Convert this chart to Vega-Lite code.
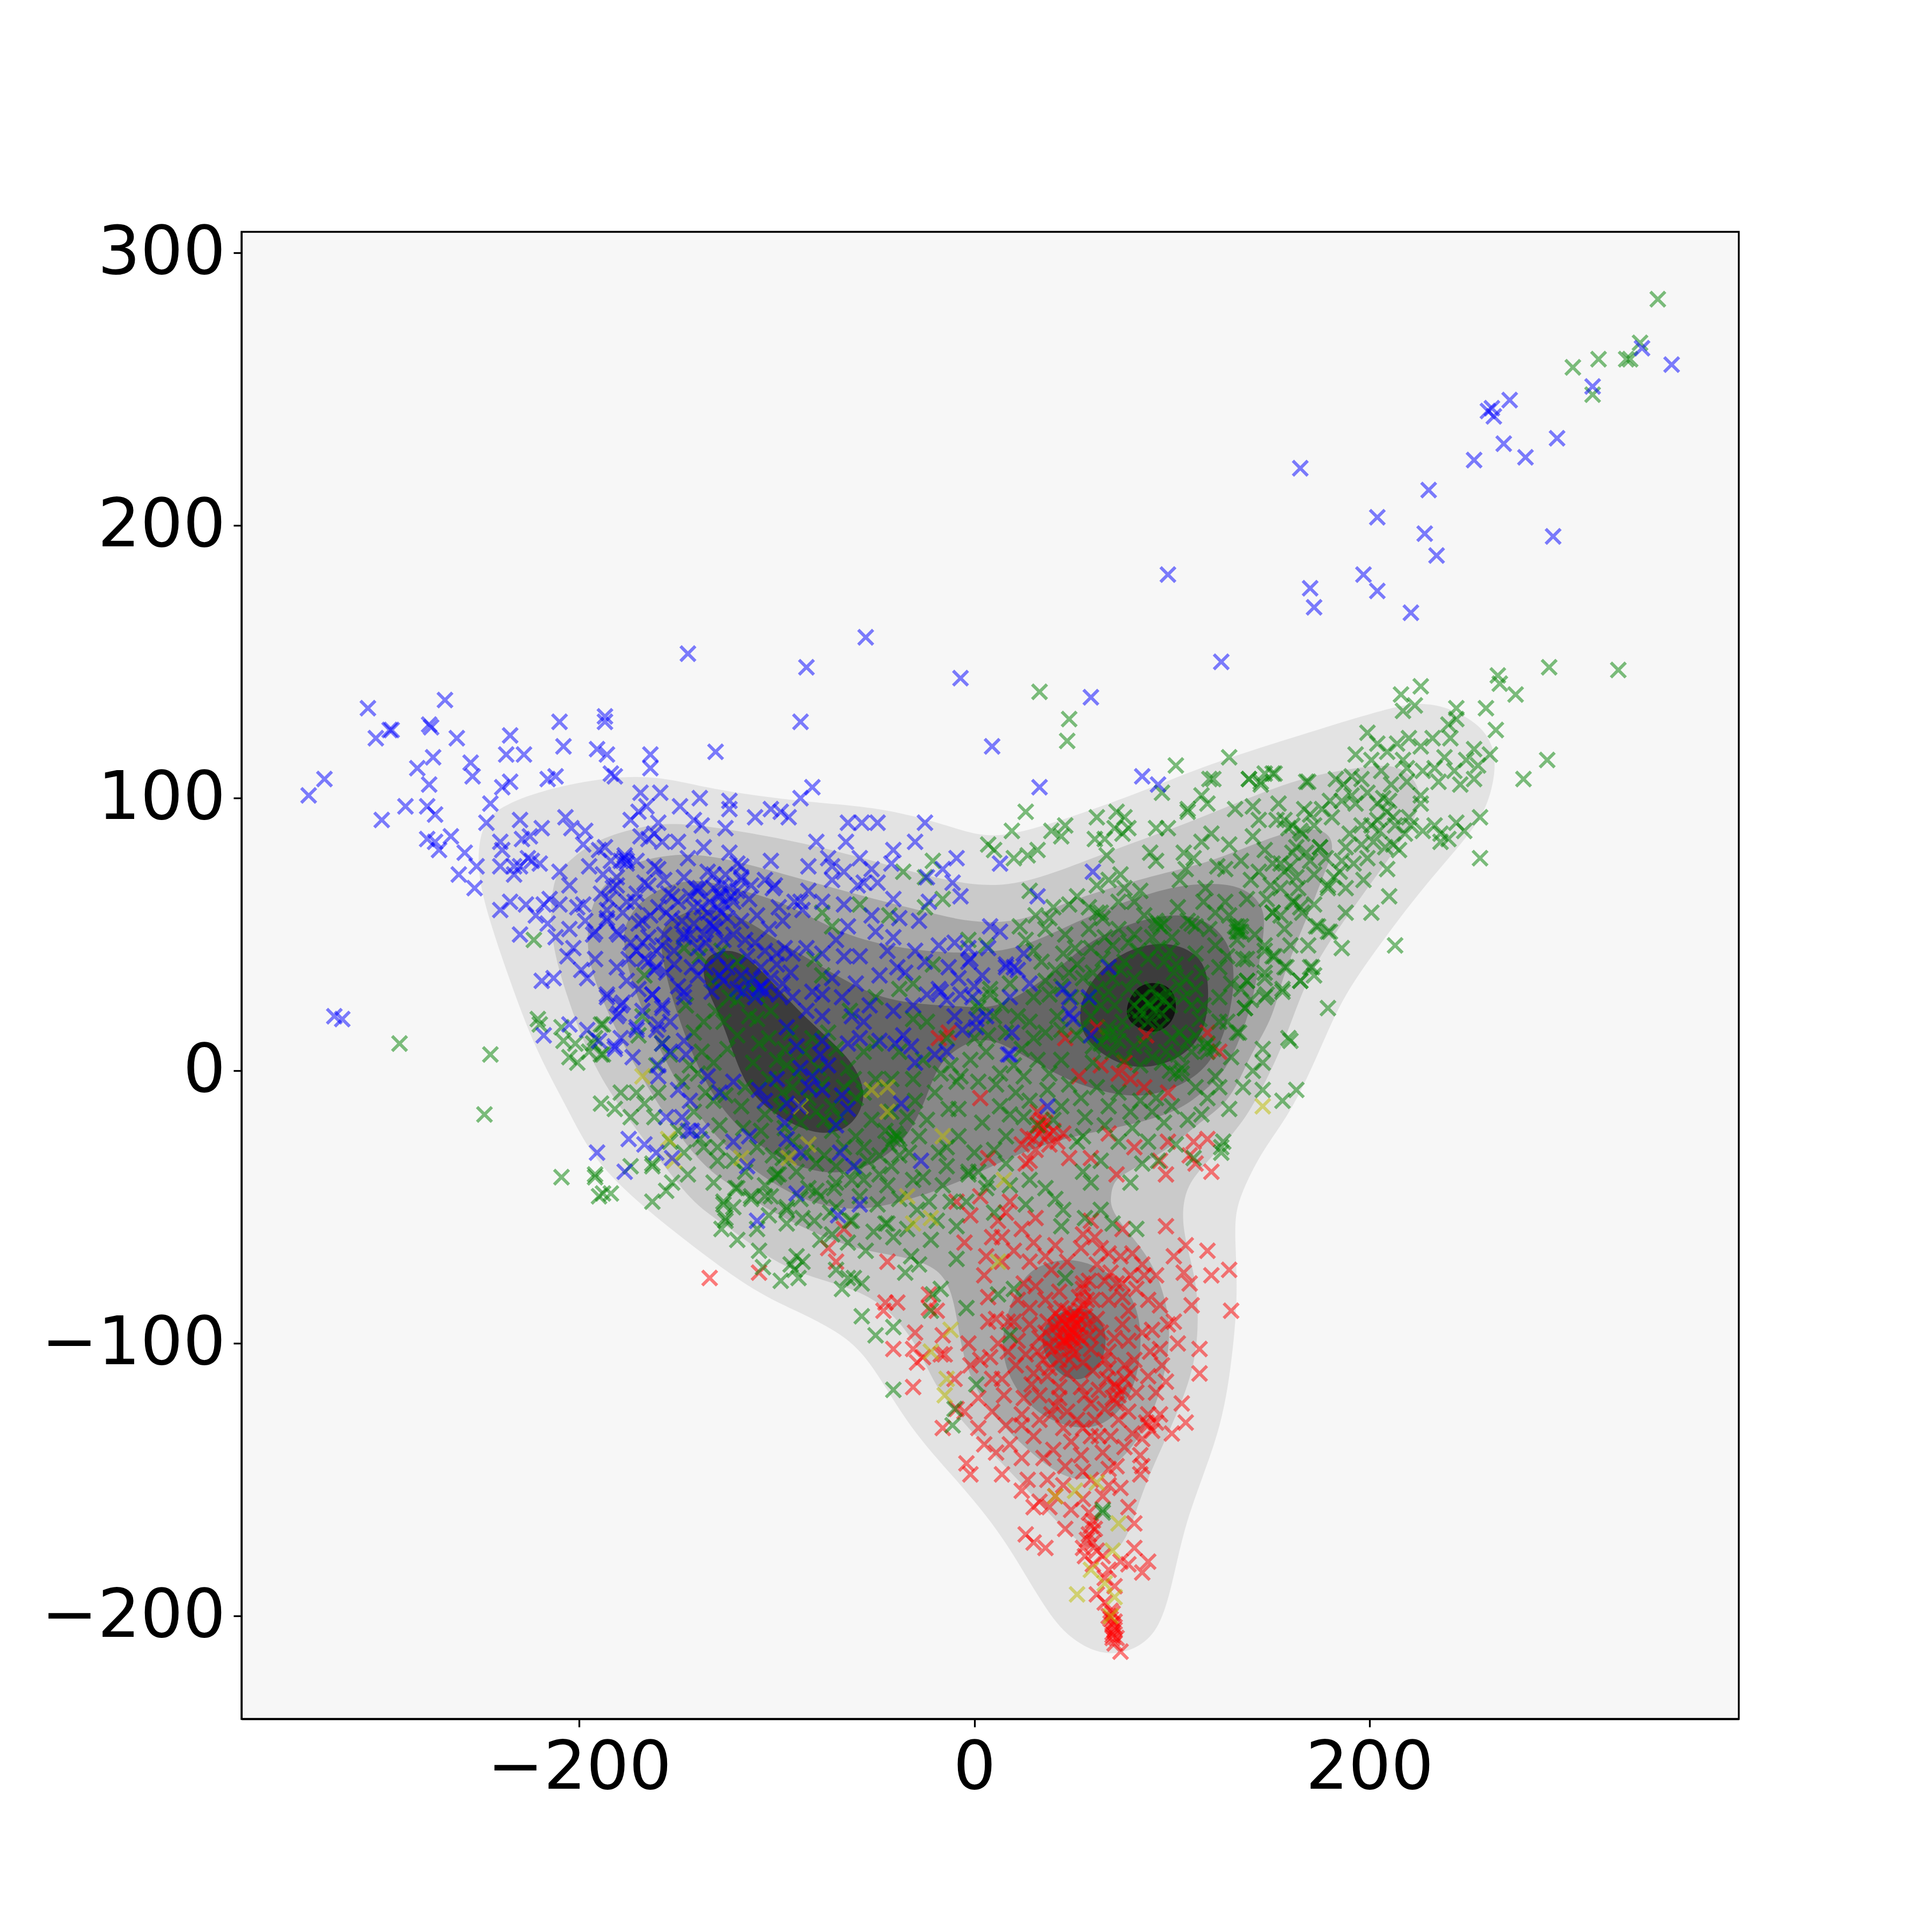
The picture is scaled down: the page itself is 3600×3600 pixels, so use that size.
{"$schema":"https://vega.github.io/schema/vega-lite/v6.json","width":2790,"height":2771,"autosize":"none","padding":{"left":450,"top":432,"right":360,"bottom":397},"background":"white","view":{"fill":"#f7f7f7","stroke":"black","strokeWidth":3.3},"config":{"axis":{"grid":false,"labelFont":"DejaVu Sans","labelFontSize":125,"labelColor":"black","tickColor":"black","tickSize":15,"tickWidth":3.3,"domainWidth":3.3,"domainColor":"black","labelPadding":15,"labelLimit":1000,"title":null,"labelFlush":false,"labelOverlap":false}},"encoding":{"x":{"field":"x","type":"quantitative","scale":{"domain":[-371,387],"nice":false,"zero":false},"axis":{"values":[-200,0,200],"title":null}},"y":{"field":"y","type":"quantitative","scale":{"domain":[-237.7,307.7],"nice":false,"zero":false},"axis":{"values":[-200,-100,0,100,200,300],"title":null}}},"datasets":{
"red":[{"x":-134,"y":-76},{"x":-44,"y":-70},{"x":-74,"y":-65},{"x":-109,"y":-74},{"x":-70,"y":-70},{"x":-66,"y":-58},{"x":-45,"y":-85},{"x":-39,"y":-85},{"x":-46,"y":-88},{"x":-23,"y":-82},{"x":-23,"y":-87},{"x":-19,"y":-88},{"x":-16,"y":-97},{"x":-30,"y":-96},{"x":-41,"y":-102},{"x":-31,"y":-102},{"x":-29,"y":-107},{"x":-26,"y":-105},{"x":-17,"y":-104},{"x":-15,"y":-104},{"x":-31,"y":-116},{"x":-10,"y":-113},{"x":-16,"y":-131},{"x":-5,"y":-125},{"x":-9,"y":-124},{"x":-3,"y":-100},{"x":-2,"y":-108},{"x":3,"y":-106},{"x":8,"y":-105},{"x":7,"y":-92},{"x":-4,"y":-144},{"x":-2,"y":-148},{"x":14,"y":-148},{"x":5,"y":-137},{"x":2,"y":-131},{"x":9,"y":-125},{"x":16,"y":-130},{"x":24,"y":-130},{"x":30,"y":-134},{"x":24,"y":-142},{"x":37,"y":-150},{"x":27,"y":-150},{"x":24,"y":-154},{"x":33,"y":-158},{"x":41,"y":-156},{"x":49,"y":-161},{"x":46,"y":-168},{"x":26,"y":-170},{"x":30,"y":-173},{"x":36,"y":-175},{"x":55,"y":-157},{"x":55,"y":-147},{"x":68,"y":-152},{"x":78,"y":-160},{"x":81,"y":-166},{"x":59,"y":-167},{"x":58,"y":-170},{"x":61,"y":-168},{"x":55,"y":-175},{"x":62,"y":-176},{"x":60,"y":-173},{"x":81,"y":-175},{"x":74,"y":-180},{"x":88,"y":-180},{"x":85,"y":-184},{"x":78,"y":-181},{"x":68,"y":-183},{"x":62,"y":-192},{"x":71,"y":-189},{"x":66,"y":-195},{"x":68,"y":-200},{"x":70,"y":-203},{"x":71,"y":-205},{"x":70,"y":-208},{"x":72,"y":-208},{"x":71,"y":-204},{"x":70,"y":-206},{"x":69,"y":-201},{"x":74,"y":-213},{"x":-9,"y":-48},{"x":3,"y":-46},{"x":-2,"y":-53},{"x":-5,"y":-63},{"x":9,"y":-61},{"x":14,"y":-61},{"x":16,"y":-52},{"x":12,"y":-55},{"x":30,"y":-63},{"x":31,"y":-54},{"x":36,"y":-68},{"x":28,"y":-70},{"x":6,"y":-68},{"x":14,"y":-70},{"x":5,"y":-75},{"x":7,"y":-83},{"x":11,"y":-91},{"x":28,"y":-87},{"x":43,"y":-81},{"x":55,"y":-60},{"x":61,"y":-61},{"x":54,"y":-65},{"x":59,"y":-55},{"x":75,"y":-58},{"x":80,"y":-67},{"x":68,"y":-67},{"x":85,"y":-71},{"x":92,"y":-75},{"x":86,"y":-75},{"x":75,"y":-78},{"x":72,"y":-78},{"x":55,"y":-78},{"x":66,"y":-77},{"x":97,"y":-57},{"x":101,"y":-68},{"x":107,"y":-64},{"x":118,"y":-66},{"x":120,"y":-75},{"x":129,"y":-73},{"x":106,"y":-74},{"x":109,"y":-78},{"x":110,"y":-86},{"x":130,"y":-88},{"x":114,"y":-102},{"x":114,"y":-111},{"x":103,"y":-100},{"x":98,"y":-93},{"x":101,"y":-92},{"x":94,"y":-102},{"x":95,"y":-108},{"x":97,"y":-114},{"x":105,"y":-122},{"x":107,"y":-129},{"x":100,"y":-133},{"x":88,"y":-130},{"x":87,"y":-129},{"x":92,"y":-129},{"x":84,"y":-141},{"x":85,"y":-145},{"x":84,"y":-148},{"x":69,"y":-134},{"x":59,"y":-134},{"x":49,"y":-136},{"x":40,"y":-139},{"x":68,"y":-146},{"x":72,"y":-116},{"x":71,"y":-115},{"x":73,"y":-119},{"x":59,"y":-122},{"x":47,"y":-125},{"x":43,"y":-120},{"x":30,"y":-111},{"x":21,"y":-108},{"x":17,"y":-103},{"x":15,"y":-119},{"x":33,"y":-119},{"x":43,"y":-116},{"x":54,"y":-116},{"x":81,"y":-106},{"x":76,"y":-108},{"x":66,"y":-106},{"x":85,"y":-96},{"x":75,"y":-93},{"x":75,"y":-83},{"x":62,"y":-91},{"x":50,"y":-91},{"x":49,"y":-95},{"x":45,"y":-96},{"x":50,"y":-96},{"x":52,"y":-93},{"x":43,"y":-93},{"x":49,"y":-98},{"x":54,"y":-88},{"x":55,"y":-86},{"x":47,"y":-88},{"x":42,"y":-97},{"x":54,"y":-98},{"x":40,"y":-102},{"x":50,"y":-102},{"x":55,"y":-80},{"x":33,"y":-98},{"x":28,"y":-93},{"x":35,"y":-106},{"x":43,"y":-106},{"x":47,"y":-111},{"x":59,"y":-102},{"x":64,"y":-96},{"x":68,"y":-103},{"x":71,"y":-98},{"x":51,"y":-93},{"x":49,"y":-90},{"x":46,"y":-93},{"x":52,"y":-97},{"x":47,"y":-100},{"x":62,"y":16},{"x":46,"y":12},{"x":87,"y":13},{"x":124,"y":7},{"x":118,"y":14},{"x":76,"y":3},{"x":73,"y":-1},{"x":79,"y":-3},{"x":53,"y":-2},{"x":64,"y":2},{"x":86,"y":-6},{"x":98,"y":-8},{"x":3,"y":-10},{"x":68,"y":-23},{"x":81,"y":-28},{"x":59,"y":-32},{"x":98,"y":-26},{"x":111,"y":-26},{"x":118,"y":-25},{"x":109,"y":-31},{"x":112,"y":-34},{"x":94,"y":-33},{"x":120,"y":-37},{"x":97,"y":-38},{"x":72,"y":-38},{"x":7,"y":-32},{"x":28,"y":-33},{"x":48,"y":-32},{"x":26,"y":-34},{"x":36,"y":-19},{"x":34,"y":-18},{"x":33,"y":-23},{"x":37,"y":-24},{"x":27,"y":-24},{"x":32,"y":-15},{"x":45,"y":-23},{"x":42,"y":-26},{"x":31,"y":-29},{"x":38,"y":-27},{"x":-18,"y":12},{"x":-13,"y":14},{"x":35,"y":-21},{"x":33,"y":-20},{"x":30,"y":-25},{"x":40,"y":-22},{"x":24,"y":-27},{"x":18,"y":-48},{"x":24,"y":-58},{"x":20,"y":-66},{"x":41,"y":-64},{"x":47,"y":-70},{"x":62,"y":-71},{"x":69,"y":-74},{"x":79,"y":-75},{"x":82,"y":-80},{"x":88,"y":-84},{"x":94,"y":-86},{"x":78,"y":-88},{"x":68,"y":-84},{"x":60,"y":-84},{"x":36,"y":-84},{"x":31,"y":-79},{"x":22,"y":-84},{"x":17,"y":-92},{"x":22,"y":-99},{"x":12,"y":-100},{"x":26,"y":-104},{"x":9,"y":-113},{"x":2,"y":-120},{"x":25,"y":-120},{"x":37,"y":-112},{"x":39,"y":-126},{"x":52,"y":-128},{"x":61,"y":-128},{"x":66,"y":-124},{"x":78,"y":-125},{"x":82,"y":-118},{"x":88,"y":-112},{"x":89,"y":-103},{"x":78,"y":-99},{"x":60,"y":-110},{"x":55,"y":-107},{"x":48,"y":-106},{"x":38,"y":-101},{"x":37,"y":-92},{"x":41,"y":-89},{"x":57,"y":-93},{"x":58,"y":-97},{"x":44,"y":-101},{"x":50,"y":-104},{"x":46,"y":-99},{"x":51,"y":-89},{"x":53,"y":-83},{"x":58,"y":-77},{"x":75,"y":-117},{"x":70,"y":-120},{"x":76,"y":-113},{"x":67,"y":-113},{"x":88,"y":-126},{"x":90,"y":-132},{"x":94,"y":-126},{"x":85,"y":-135},{"x":76,"y":-138},{"x":65,"y":-140},{"x":54,"y":-141},{"x":46,"y":-145},{"x":35,"y":-142},{"x":18,"y":-137},{"x":11,"y":-140},{"x":30,"y":-160},{"x":38,"y":-160},{"x":45,"y":-152},{"x":59,"y":-150},{"x":72,"y":-145},{"x":74,"y":-153},{"x":65,"y":-156},{"x":56,"y":-178},{"x":60,"y":-181},{"x":66,"y":-186},{"x":69,"y":-198},{"x":70,"y":-199},{"x":71,"y":-202},{"x":70,"y":-207},{"x":71,"y":-210},{"x":58,"y":-162},{"x":60,"y":-165},{"x":57,"y":-172},{"x":65,"y":-178},{"x":44,"y":-91},{"x":48,"y":-92},{"x":53,"y":-91},{"x":45,"y":-99},{"x":41,"y":-94},{"x":56,"y":-90},{"x":51,"y":-99},{"x":48,"y":-97},{"x":44,"y":-87},{"x":57,"y":-84},{"x":36,"y":-96},{"x":32,"y":-103},{"x":38,"y":-109},{"x":29,"y":-115},{"x":41,"y":-123},{"x":56,"y":-119},{"x":63,"y":-117},{"x":68,"y":-109},{"x":79,"y":-111},{"x":72,"y":-122},{"x":63,"y":-134},{"x":55,"y":-131},{"x":45,"y":-131},{"x":33,"y":-128},{"x":24,"y":-126},{"x":14,"y":-113},{"x":20,"y":-92},{"x":25,"y":-78},{"x":39,"y":-73},{"x":64,"y":-65},{"x":74,"y":-68},{"x":90,"y":-95},{"x":92,"y":-118},{"x":80,"y":-133},{"x":73,"y":-128}],
"green":[{"x":346,"y":283},{"x":337,"y":267},{"x":330,"y":261},{"x":332,"y":261},{"x":316,"y":261},{"x":303,"y":258},{"x":313,"y":248},{"x":291,"y":148},{"x":326,"y":147},{"x":265,"y":145},{"x":266,"y":142},{"x":226,"y":141},{"x":274,"y":138},{"x":216,"y":138},{"x":223,"y":134},{"x":217,"y":132},{"x":244,"y":133},{"x":259,"y":133},{"x":264,"y":125},{"x":240,"y":127},{"x":244,"y":129},{"x":199,"y":124},{"x":204,"y":120},{"x":193,"y":116},{"x":201,"y":114},{"x":214,"y":120},{"x":220,"y":122},{"x":209,"y":117},{"x":232,"y":122},{"x":226,"y":119},{"x":241,"y":122},{"x":238,"y":115},{"x":217,"y":114},{"x":219,"y":111},{"x":227,"y":110},{"x":233,"y":111},{"x":235,"y":106},{"x":219,"y":106},{"x":246,"y":105},{"x":253,"y":107},{"x":243,"y":110},{"x":249,"y":114},{"x":253,"y":118},{"x":261,"y":116},{"x":255,"y":112},{"x":290,"y":114},{"x":278,"y":107},{"x":147,"y":109},{"x":152,"y":109},{"x":139,"y":107},{"x":145,"y":105},{"x":169,"y":106},{"x":183,"y":107},{"x":191,"y":108},{"x":187,"y":105},{"x":196,"y":107},{"x":191,"y":101},{"x":186,"y":99},{"x":193,"y":98},{"x":180,"y":99},{"x":176,"y":96},{"x":181,"y":93},{"x":207,"y":100},{"x":204,"y":98},{"x":210,"y":99},{"x":209,"y":95},{"x":212,"y":93},{"x":226,"y":101},{"x":226,"y":98},{"x":220,"y":93},{"x":221,"y":90},{"x":218,"y":87},{"x":204,"y":92},{"x":196,"y":90},{"x":201,"y":90},{"x":190,"y":87},{"x":227,"y":88},{"x":233,"y":90},{"x":236,"y":87},{"x":240,"y":85},{"x":236,"y":84},{"x":244,"y":91},{"x":248,"y":88},{"x":256,"y":93},{"x":256,"y":78},{"x":212,"y":83},{"x":208,"y":82},{"x":215,"y":81},{"x":196,"y":83},{"x":202,"y":84},{"x":188,"y":82},{"x":186,"y":77},{"x":209,"y":74},{"x":197,"y":70},{"x":210,"y":64},{"x":201,"y":58},{"x":188,"y":58},{"x":213,"y":46},{"x":186,"y":45},{"x":179,"y":23},{"x":180,"y":51},{"x":173,"y":53},{"x":169,"y":46},{"x":171,"y":38},{"x":172,"y":35},{"x":165,"y":33},{"x":185,"y":73},{"x":179,"y":68},{"x":182,"y":71},{"x":175,"y":82},{"x":166,"y":87},{"x":161,"y":90},{"x":157,"y":92},{"x":167,"y":96},{"x":154,"y":98},{"x":141,"y":97},{"x":144,"y":92},{"x":141,"y":86},{"x":147,"y":81},{"x":151,"y":76},{"x":135,"y":77},{"x":157,"y":73},{"x":163,"y":71},{"x":170,"y":77},{"x":161,"y":80},{"x":144,"y":73},{"x":155,"y":67},{"x":164,"y":67},{"x":162,"y":62},{"x":172,"y":61},{"x":166,"y":58},{"x":151,"y":58},{"x":157,"y":52},{"x":159,"y":12},{"x":160,"y":11},{"x":146,"y":8},{"x":146,"y":3},{"x":141,"y":0},{"x":146,"y":-7},{"x":163,"y":-7},{"x":156,"y":-11},{"x":136,"y":-6},{"x":135,"y":53},{"x":135,"y":51},{"x":133,"y":51},{"x":147,"y":46},{"x":151,"y":42},{"x":136,"y":41},{"x":157,"y":38},{"x":147,"y":34},{"x":138,"y":33},{"x":156,"y":29},{"x":147,"y":27},{"x":137,"y":23},{"x":134,"y":14},{"x":26,"y":95},{"x":19,"y":88},{"x":7,"y":83},{"x":10,"y":81},{"x":20,"y":78},{"x":27,"y":79},{"x":32,"y":81},{"x":39,"y":88},{"x":46,"y":90},{"x":44,"y":86},{"x":62,"y":93},{"x":72,"y":95},{"x":76,"y":93},{"x":71,"y":89},{"x":78,"y":89},{"x":75,"y":87},{"x":61,"y":85},{"x":66,"y":85},{"x":67,"y":79},{"x":92,"y":89},{"x":98,"y":89},{"x":108,"y":95},{"x":120,"y":87},{"x":115,"y":84},{"x":129,"y":83},{"x":132,"y":96},{"x":89,"y":80},{"x":92,"y":77},{"x":106,"y":80},{"x":111,"y":78},{"x":107,"y":74},{"x":74,"y":72},{"x":68,"y":70},{"x":62,"y":68},{"x":28,"y":66},{"x":40,"y":60},{"x":48,"y":61},{"x":52,"y":64},{"x":31,"y":57},{"x":38,"y":56},{"x":36,"y":52},{"x":23,"y":53},{"x":26,"y":48},{"x":76,"y":67},{"x":73,"y":62},{"x":81,"y":62},{"x":104,"y":70},{"x":117,"y":67},{"x":127,"y":74},{"x":123,"y":75},{"x":140,"y":70},{"x":127,"y":62},{"x":138,"y":63},{"x":159,"y":89},{"x":165,"y":88},{"x":153,"y":92},{"x":170,"y":94},{"x":175,"y":82},{"x":155,"y":76},{"x":179,"y":67},{"x":165,"y":60},{"x":161,"y":62},{"x":174,"y":53},{"x":179,"y":51},{"x":151,"y":58},{"x":147,"y":44},{"x":152,"y":42},{"x":158,"y":38},{"x":170,"y":38},{"x":165,"y":33},{"x":156,"y":30},{"x":147,"y":36},{"x":138,"y":33},{"x":148,"y":28},{"x":140,"y":26},{"x":137,"y":23},{"x":133,"y":14},{"x":129,"y":-14},{"x":118,"y":-10},{"x":115,"y":-16},{"x":108,"y":-18},{"x":126,"y":-26},{"x":125,"y":-30},{"x":96,"y":-19},{"x":90,"y":-15},{"x":79,"y":-15},{"x":68,"y":-13},{"x":56,"y":-17},{"x":44,"y":-13},{"x":94,"y":53},{"x":92,"y":55},{"x":96,"y":54},{"x":93,"y":54},{"x":110,"y":54},{"x":112,"y":53},{"x":108,"y":55},{"x":133,"y":53},{"x":134,"y":51},{"x":132,"y":53},{"x":64,"y":58},{"x":65,"y":56},{"x":62,"y":58},{"x":59,"y":45},{"x":51,"y":45},{"x":48,"y":36},{"x":41,"y":37},{"x":30,"y":27},{"x":22,"y":20},{"x":36,"y":14},{"x":44,"y":4},{"x":32,"y":4},{"x":25,"y":-2},{"x":11,"y":-5},{"x":7,"y":13},{"x":88,"y":41},{"x":101,"y":36},{"x":112,"y":30},{"x":81,"y":34},{"x":71,"y":24},{"x":64,"y":24},{"x":68,"y":13},{"x":74,"y":14},{"x":104,"y":14},{"x":117,"y":9},{"x":118,"y":7},{"x":112,"y":13},{"x":105,"y":-1},{"x":99,"y":0},{"x":90,"y":5},{"x":81,"y":9},{"x":64,"y":10},{"x":59,"y":20},{"x":110,"y":24},{"x":116,"y":24},{"x":124,"y":18},{"x":124,"y":27},{"x":124,"y":38},{"x":122,"y":46},{"x":138,"y":41},{"x":133,"y":48},{"x":112,"y":43},{"x":102,"y":39},{"x":93,"y":45},{"x":73,"y":52},{"x":81,"y":50},{"x":65,"y":41},{"x":49,"y":27},{"x":42,"y":20},{"x":28,"y":18},{"x":14,"y":24},{"x":8,"y":30},{"x":2,"y":23},{"x":89,"y":24},{"x":93,"y":27},{"x":85,"y":27},{"x":95,"y":21},{"x":88,"y":18},{"x":84,"y":22},{"x":96,"y":26},{"x":81,"y":24},{"x":91,"y":22},{"x":90,"y":30},{"x":99,"y":24},{"x":94,"y":16},{"x":83,"y":19},{"x":88,"y":25},{"x":98,"y":29},{"x":68,"y":16},{"x":73,"y":11},{"x":66,"y":13},{"x":102,"y":-1},{"x":105,"y":1},{"x":121,"y":8},{"x":118,"y":10},{"x":33,"y":139},{"x":48,"y":129},{"x":47,"y":121},{"x":129,"y":115},{"x":102,"y":112},{"x":95,"y":102},{"x":121,"y":107},{"x":119,"y":107},{"x":108,"y":96},{"x":115,"y":101},{"x":118,"y":98},{"x":139,"y":107},{"x":145,"y":106},{"x":151,"y":109},{"x":168,"y":106},{"x":-223,"y":48},{"x":-291,"y":10},{"x":-245,"y":6},{"x":-248,"y":-16},{"x":-221,"y":19},{"x":-220,"y":17},{"x":-209,"y":16},{"x":-189,"y":17},{"x":-208,"y":11},{"x":-205,"y":5},{"x":-201,"y":3},{"x":-195,"y":7},{"x":-189,"y":6},{"x":-193,"y":10},{"x":-202,"y":10},{"x":-179,"y":-8},{"x":-171,"y":-8},{"x":-189,"y":-12},{"x":-182,"y":-14},{"x":-167,"y":-12},{"x":-174,"y":-17},{"x":-209,"y":-39},{"x":-192,"y":-38},{"x":-162,"y":-17},{"x":-174,"y":-35},{"x":-163,"y":-35},{"x":-127,"y":-48},{"x":-126,"y":-55},{"x":-126,"y":-54},{"x":-128,"y":-58},{"x":-120,"y":-62},{"x":-109,"y":-66},{"x":-107,"y":-72},{"x":-98,"y":-77},{"x":-90,"y":-68},{"x":-91,"y":-73},{"x":-87,"y":-70},{"x":-93,"y":-71},{"x":-89,"y":-76},{"x":-70,"y":-73},{"x":-67,"y":-80},{"x":-64,"y":-76},{"x":-57,"y":-78},{"x":-61,"y":-76},{"x":-57,"y":-90},{"x":-41,"y":-94},{"x":-50,"y":-97},{"x":-41,"y":-117},{"x":-4,"y":-87},{"x":18,"y":-97},{"x":1,"y":-115},{"x":-10,"y":-124},{"x":-11,"y":-130},{"x":-17,"y":-80},{"x":-21,"y":-82},{"x":-22,"y":-88},{"x":20,"y":-80},{"x":12,"y":-82},{"x":46,"y":-76},{"x":65,"y":-161},{"x":65,"y":-162},{"x":-120,"y":-43},{"x":-113,"y":-47},{"x":-106,"y":-46},{"x":-95,"y":-50},{"x":-87,"y":-54},{"x":-80,"y":-44},{"x":-71,"y":-43},{"x":-62,"y":-55},{"x":-51,"y":-59},{"x":-41,"y":-61},{"x":-55,"y":-66},{"x":-64,"y":-63},{"x":-32,"y":-68},{"x":-28,"y":-71},{"x":-35,"y":-74},{"x":-9,"y":-69},{"x":-22,"y":-62},{"x":-45,"y":-56},{"x":-29,"y":-51},{"x":-19,"y":-55},{"x":-9,"y":-57},{"x":2,"y":-37},{"x":7,"y":-41},{"x":26,"y":-49},{"x":45,"y":-51},{"x":44,"y":-57},{"x":36,"y":-43},{"x":41,"y":-47},{"x":59,"y":-41},{"x":55,"y":-37},{"x":64,"y":-51},{"x":70,"y":-56},{"x":82,"y":-58},{"x":56,"y":-54},{"x":79,"y":-41},{"x":85,"y":-34},{"x":93,"y":-33},{"x":125,"y":-28},{"x":111,"y":-32},{"x":73,"y":-26},{"x":55,"y":-24},{"x":16,"y":-24},{"x":-3,"y":-37},{"x":-14,"y":-28},{"x":-28,"y":-24},{"x":-38,"y":-31},{"x":-54,"y":-33},{"x":-43,"y":-27},{"x":-66,"y":-28},{"x":-80,"y":-34},{"x":-97,"y":-32},{"x":-99,"y":-38},{"x":-106,"y":-42},{"x":-130,"y":-33},{"x":-137,"y":-28},{"x":-88,"y":-47},{"x":-73,"y":-52},{"x":-59,"y":-36},{"x":-26,"y":-39},{"x":-39,"y":-24},{"x":-40,"y":-23},{"x":-38,"y":-25},{"x":-41,"y":-25},{"x":-100,"y":-38},{"x":-101,"y":-39},{"x":-121,"y":-43},{"x":-113,"y":-46},{"x":-127,"y":-49},{"x":-103,"y":-46},{"x":-95,"y":-51},{"x":-84,"y":-43},{"x":-70,"y":-41},{"x":-56,"y":-40},{"x":-42,"y":-35},{"x":-31,"y":-40},{"x":-23,"y":-48},{"x":-14,"y":-35},{"x":-3,"y":-38},{"x":6,"y":-43},{"x":16,"y":-34},{"x":4,"y":-19},{"x":-13,"y":-14},{"x":13,"y":-13},{"x":-7,"y":-2},{"x":6,"y":7},{"x":13,"y":-1},{"x":-2,"y":4},{"x":-17,"y":-1},{"x":-9,"y":-4},{"x":-30,"y":-11},{"x":-42,"y":-15},{"x":-50,"y":-3},{"x":-31,"y":-3},{"x":-38,"y":7},{"x":-56,"y":7},{"x":-63,"y":22},{"x":-77,"y":35},{"x":-81,"y":41},{"x":-50,"y":27},{"x":-38,"y":30},{"x":-31,"y":32},{"x":-21,"y":39},{"x":-3,"y":48},{"x":6,"y":46},{"x":8,"y":28},{"x":2,"y":25},{"x":-31,"y":19},{"x":-24,"y":18},{"x":-14,"y":12},{"x":-36,"y":73},{"x":-21,"y":77},{"x":-25,"y":71},{"x":-16,"y":63},{"x":-43,"y":57},{"x":-58,"y":61},{"x":-77,"y":58},{"x":-72,"y":53},{"x":-25,"y":60},{"x":-188,"y":17},{"x":-192,"y":12},{"x":-188,"y":6},{"x":-168,"y":20},{"x":-170,"y":13},{"x":-158,"y":10},{"x":-154,"y":6},{"x":-161,"y":2},{"x":-138,"y":7},{"x":-132,"y":3},{"x":-142,"y":14},{"x":-146,"y":24},{"x":-167,"y":35},{"x":-147,"y":45},{"x":-139,"y":42},{"x":-128,"y":44},{"x":-120,"y":40},{"x":-114,"y":20},{"x":-110,"y":19},{"x":-120,"y":13},{"x":-109,"y":10},{"x":-100,"y":4},{"x":-95,"y":2},{"x":-79,"y":1},{"x":-86,"y":7},{"x":-72,"y":-13},{"x":-61,"y":-3},{"x":-97,"y":-8},{"x":-106,"y":-16},{"x":-117,"y":-21},{"x":-132,"y":-11},{"x":-136,"y":-8},{"x":-142,"y":-15},{"x":-129,"y":-20},{"x":-139,"y":-25},{"x":-147,"y":-30},{"x":-154,"y":-26},{"x":-163,"y":-34},{"x":-153,"y":-41},{"x":-156,"y":-44},{"x":-163,"y":-48},{"x":-192,"y":-39},{"x":-184,"y":-45},{"x":-190,"y":-46},{"x":-188,"y":-45},{"x":-104,"y":-53},{"x":-95,"y":-56},{"x":-81,"y":-55},{"x":-63,"y":-55},{"x":-44,"y":-56},{"x":-70,"y":-50},{"x":-49,"y":-49},{"x":-38,"y":-47},{"x":60,"y":36},{"x":70,"y":34},{"x":76,"y":40},{"x":83,"y":44},{"x":96,"y":40},{"x":107,"y":34},{"x":106,"y":27},{"x":100,"y":12},{"x":110,"y":7},{"x":97,"y":7},{"x":86,"y":10},{"x":75,"y":18},{"x":70,"y":7},{"x":60,"y":3},{"x":52,"y":13},{"x":55,"y":34},{"x":58,"y":52},{"x":70,"y":46},{"x":86,"y":57},{"x":100,"y":49},{"x":119,"y":52},{"x":128,"y":42},{"x":115,"y":36},{"x":130,"y":32},{"x":128,"y":18},{"x":130,"y":5},{"x":122,"y":-2},{"x":112,"y":-6},{"x":92,"y":-10},{"x":73,"y":-8},{"x":62,"y":-6},{"x":48,"y":-5},{"x":37,"y":-7},{"x":28,"y":-11},{"x":18,"y":-16},{"x":2,"y":-4},{"x":-8,"y":-14},{"x":-20,"y":-8},{"x":-24,"y":-18},{"x":-34,"y":-17},{"x":-45,"y":-22},{"x":-52,"y":-18},{"x":-60,"y":-24},{"x":-72,"y":-22},{"x":-80,"y":-15},{"x":-88,"y":-19},{"x":-92,"y":-6},{"x":-104,"y":-3},{"x":-112,"y":3},{"x":-125,"y":8},{"x":-127,"y":18},{"x":-124,"y":27},{"x":-132,"y":33},{"x":-114,"y":32},{"x":-103,"y":22},{"x":-93,"y":14},{"x":-82,"y":12},{"x":-70,"y":8},{"x":-66,"y":-6},{"x":-77,"y":-5},{"x":-110,"y":-28},{"x":-122,"y":-33},{"x":-92,"y":-26},{"x":-76,"y":-31},{"x":-62,"y":-40},{"x":-48,"y":-38},{"x":-33,"y":-30},{"x":-18,"y":-30},{"x":-8,"y":-24},{"x":10,"y":-29},{"x":25,"y":-17},{"x":40,"y":-18},{"x":52,"y":-26},{"x":66,"y":-20},{"x":80,"y":-21},{"x":102,"y":-27},{"x":-58,"y":-46},{"x":-78,"y":-46},{"x":-90,"y":-37},{"x":-116,"y":-37},{"x":-132,"y":-41},{"x":-145,"y":-38},{"x":-150,"y":-22},{"x":-160,"y":-8},{"x":-148,"y":-4},{"x":-140,"y":-1},{"x":-126,"y":-9},{"x":-118,"y":-13},{"x":-12,"y":-48},{"x":-4,"y":-48},{"x":10,"y":-52},{"x":18,"y":-42},{"x":28,"y":-40},{"x":-50,"y":10},{"x":-42,"y":-3},{"x":-26,"y":4},{"x":-12,"y":2},{"x":0,"y":12},{"x":16,"y":14},{"x":24,"y":8},{"x":38,"y":28},{"x":34,"y":40},{"x":46,"y":50},{"x":44,"y":15},{"x":116,"y":62},{"x":122,"y":58},{"x":148,"y":63},{"x":155,"y":57},{"x":142,"y":50},{"x":160,"y":46},{"x":150,"y":68},{"x":160,"y":75},{"x":168,"y":80},{"x":172,"y":72},{"x":178,"y":78},{"x":188,"y":67},{"x":192,"y":76},{"x":199,"y":78},{"x":205,"y":88},{"x":213,"y":90},{"x":211,"y":105},{"x":206,"y":110},{"x":199,"y":102},{"x":172,"y":90},{"x":163,"y":82},{"x":78,"y":30},{"x":74,"y":37},{"x":68,"y":29},{"x":62,"y":30},{"x":58,"y":26},{"x":55,"y":16},{"x":60,"y":9},{"x":76,"y":4},{"x":84,"y":2},{"x":95,"y":3},{"x":103,"y":6},{"x":108,"y":11},{"x":114,"y":19},{"x":104,"y":31},{"x":99,"y":44},{"x":90,"y":49},{"x":78,"y":47},{"x":66,"y":49},{"x":52,"y":39},{"x":44,"y":31},{"x":36,"y":33},{"x":30,"y":12},{"x":20,"y":2},{"x":38,"y":-1},{"x":54,"y":-10},{"x":84,"y":-11},{"x":100,"y":-13},{"x":124,"y":-6},{"x":135,"y":30},{"x":129,"y":57},{"x":103,"y":60},{"x":84,"y":66},{"x":58,"y":60},{"x":45,"y":43},{"x":-96,"y":-21},{"x":-84,"y":-10},{"x":-76,"y":-18},{"x":-68,"y":-17},{"x":-60,"y":-10},{"x":-56,"y":-28},{"x":-48,"y":-31},{"x":-44,"y":-42},{"x":-70,"y":-35},{"x":-85,"y":-30},{"x":-102,"y":-31},{"x":-108,"y":-22},{"x":-98,"y":-13},{"x":-116,"y":-6},{"x":-104,"y":12},{"x":-96,"y":8},{"x":-90,"y":-1},{"x":-74,"y":14},{"x":-64,"y":1},{"x":-56,"y":-8},{"x":-120,"y":26},{"x":-110,"y":28},{"x":-131,"y":22},{"x":-137,"y":18},{"x":-144,"y":2},{"x":-130,"y":-28},{"x":-122,"y":-50},{"x":-110,"y":-58},{"x":-78,"y":-62},{"x":-72,"y":-60},{"x":-34,"y":-58},{"x":-16,"y":-42},{"x":0,"y":-30},{"x":21,"y":-8},{"x":32,"y":-20},{"x":64,"y":-33},{"x":88,"y":-26},{"x":30,"y":44},{"x":18,"y":32},{"x":10,"y":20}],
"yellow":[{"x":146,"y":-13},{"x":-44,"y":-6},{"x":-44,"y":-15},{"x":-52,"y":-7},{"x":-16,"y":-24},{"x":-84,"y":-27},{"x":-168,"y":-2},{"x":-155,"y":-25},{"x":-118,"y":-32},{"x":-94,"y":-32},{"x":-88,"y":-13},{"x":-34,"y":-46},{"x":-31,"y":-56},{"x":-22,"y":-54},{"x":15,"y":-40},{"x":12,"y":-70},{"x":-12,"y":-95},{"x":-22,"y":-103},{"x":-14,"y":-113},{"x":-15,"y":-119},{"x":41,"y":-156},{"x":51,"y":-154},{"x":62,"y":-151},{"x":73,"y":-166},{"x":70,"y":-176},{"x":59,"y":-183},{"x":52,"y":-192},{"x":66,"y":-188},{"x":71,"y":-193},{"x":69,"y":-200},{"x":-152,"y":-33}],
"blue":[{"x":338,"y":265},{"x":353,"y":259},{"x":313,"y":251},{"x":271,"y":246},{"x":262,"y":243},{"x":260,"y":242},{"x":263,"y":240},{"x":295,"y":232},{"x":268,"y":230},{"x":253,"y":224},{"x":279,"y":225},{"x":165,"y":221},{"x":230,"y":213},{"x":204,"y":203},{"x":228,"y":197},{"x":293,"y":196},{"x":234,"y":189},{"x":98,"y":182},{"x":197,"y":182},{"x":170,"y":177},{"x":204,"y":176},{"x":172,"y":170},{"x":221,"y":168},{"x":125,"y":150},{"x":-145,"y":153},{"x":-268,"y":136},{"x":-307,"y":133},{"x":-303,"y":122},{"x":-295,"y":125},{"x":-296,"y":125},{"x":-276,"y":127},{"x":-275,"y":126},{"x":-262,"y":122},{"x":-235,"y":123},{"x":-210,"y":128},{"x":-187,"y":130},{"x":-187,"y":128},{"x":-88,"y":128},{"x":-85,"y":148},{"x":-208,"y":119},{"x":-237,"y":116},{"x":-228,"y":116},{"x":-191,"y":118},{"x":-186,"y":116},{"x":-164,"y":116},{"x":-131,"y":117},{"x":-274,"y":115},{"x":-255,"y":113},{"x":-282,"y":111},{"x":-254,"y":108},{"x":-164,"y":111},{"x":-184,"y":109},{"x":-182,"y":108},{"x":-212,"y":108},{"x":-216,"y":107},{"x":-235,"y":106},{"x":-239,"y":104},{"x":-276,"y":105},{"x":-329,"y":107},{"x":-337,"y":101},{"x":-169,"y":102},{"x":-159,"y":102},{"x":-245,"y":98},{"x":-139,"y":100},{"x":-124,"y":99},{"x":-124,"y":96},{"x":-88,"y":100},{"x":-288,"y":97},{"x":-277,"y":97},{"x":-273,"y":94},{"x":-300,"y":92},{"x":-166,"y":97},{"x":-149,"y":97},{"x":-174,"y":92},{"x":-170,"y":95},{"x":-142,"y":92},{"x":-138,"y":90},{"x":-126,"y":89},{"x":-111,"y":93},{"x":-103,"y":96},{"x":-94,"y":93},{"x":-98,"y":95},{"x":-247,"y":91},{"x":-230,"y":92},{"x":-207,"y":93},{"x":-219,"y":89},{"x":-204,"y":89},{"x":-197,"y":88},{"x":-160,"y":91},{"x":-277,"y":85},{"x":-265,"y":86},{"x":-273,"y":84},{"x":-271,"y":81},{"x":-240,"y":84},{"x":-229,"y":85},{"x":-225,"y":86},{"x":-198,"y":83},{"x":-169,"y":86},{"x":-165,"y":85},{"x":-162,"y":87},{"x":-158,"y":84},{"x":-137,"y":82},{"x":-258,"y":80},{"x":-239,"y":81},{"x":-190,"y":81},{"x":-187,"y":82},{"x":-124,"y":80},{"x":-103,"y":77},{"x":-252,"y":75},{"x":-240,"y":75},{"x":-233,"y":75},{"x":-230,"y":75},{"x":-224,"y":77},{"x":-220,"y":76},{"x":-226,"y":78},{"x":-233,"y":72},{"x":-261,"y":72},{"x":-253,"y":67},{"x":-184,"y":77},{"x":-179,"y":77},{"x":-176,"y":77},{"x":-171,"y":77},{"x":-177,"y":79},{"x":-162,"y":75},{"x":-157,"y":70},{"x":-181,"y":71},{"x":-183,"y":67},{"x":-167,"y":69},{"x":-171,"y":65},{"x":-147,"y":71},{"x":-141,"y":67},{"x":-132,"y":72},{"x":-118,"y":70},{"x":-118,"y":75},{"x":-106,"y":70},{"x":-101,"y":68},{"x":-88,"y":62},{"x":-129,"y":64},{"x":-122,"y":62},{"x":-134,"y":54},{"x":-147,"y":49},{"x":-153,"y":64},{"x":-168,"y":55},{"x":-189,"y":65},{"x":-235,"y":62},{"x":-240,"y":59},{"x":-227,"y":61},{"x":-215,"y":63},{"x":-218,"y":61},{"x":-210,"y":61},{"x":-198,"y":61},{"x":-222,"y":57},{"x":-186,"y":55},{"x":-216,"y":54},{"x":-230,"y":50},{"x":-212,"y":49},{"x":-205,"y":52},{"x":-193,"y":50},{"x":-203,"y":45},{"x":-206,"y":42},{"x":-192,"y":41},{"x":-199,"y":37},{"x":-196,"y":34},{"x":-181,"y":51},{"x":-174,"y":47},{"x":-167,"y":41},{"x":-162,"y":37},{"x":-181,"y":38},{"x":-219,"y":33},{"x":-213,"y":34},{"x":-186,"y":27},{"x":-178,"y":25},{"x":-181,"y":20},{"x":-163,"y":28},{"x":-158,"y":23},{"x":-171,"y":15},{"x":-160,"y":17},{"x":-324,"y":20},{"x":-320,"y":19},{"x":-182,"y":9},{"x":-218,"y":13},{"x":-205,"y":17},{"x":-196,"y":15},{"x":-190,"y":11},{"x":-173,"y":5},{"x":-160,"y":-2},{"x":-150,"y":-7},{"x":-156,"y":-17},{"x":-148,"y":-17},{"x":-143,"y":-22},{"x":-175,"y":-25},{"x":-167,"y":-27},{"x":-191,"y":-30},{"x":-161,"y":-30},{"x":-114,"y":-24},{"x":-153,"y":-32},{"x":-177,"y":-37},{"x":-115,"y":-35},{"x":-177,"y":78},{"x":-176,"y":76},{"x":-140,"y":66},{"x":-139,"y":67},{"x":-118,"y":71},{"x":-129,"y":65},{"x":-132,"y":53},{"x":-131,"y":52},{"x":-147,"y":50},{"x":-170,"y":54},{"x":-165,"y":40},{"x":-161,"y":38},{"x":-129,"y":35},{"x":-108,"y":31},{"x":-109,"y":30},{"x":-106,"y":29},{"x":-99,"y":28},{"x":-118,"y":35},{"x":-127,"y":33},{"x":-147,"y":29},{"x":-88,"y":1},{"x":-77,"y":-7},{"x":-109,"y":-7},{"x":-95,"y":16},{"x":-18,"y":30},{"x":-17,"y":29},{"x":-31,"y":24},{"x":16,"y":38},{"x":-13,"y":38},{"x":-3,"y":40},{"x":-64,"y":91},{"x":-57,"y":91},{"x":-49,"y":91},{"x":-25,"y":91},{"x":-80,"y":84},{"x":-30,"y":84},{"x":-41,"y":81},{"x":-65,"y":84},{"x":-74,"y":78},{"x":-84,"y":75},{"x":-72,"y":75},{"x":-58,"y":78},{"x":-42,"y":76},{"x":-52,"y":74},{"x":-66,"y":73},{"x":-9,"y":78},{"x":13,"y":76},{"x":-16,"y":74},{"x":-24,"y":71},{"x":-11,"y":69},{"x":-7,"y":64},{"x":-56,"y":69},{"x":-49,"y":69},{"x":-59,"y":68},{"x":-72,"y":70},{"x":-102,"y":67},{"x":-84,"y":66},{"x":-77,"y":62},{"x":-91,"y":62},{"x":-66,"y":61},{"x":-41,"y":63},{"x":-99,"y":60},{"x":-87,"y":59},{"x":-110,"y":57},{"x":-97,"y":55},{"x":-64,"y":53},{"x":-52,"y":57},{"x":-38,"y":56},{"x":-28,"y":55},{"x":-23,"y":62},{"x":-41,"y":49},{"x":-50,"y":51},{"x":-70,"y":48},{"x":-85,"y":45},{"x":-77,"y":43},{"x":-96,"y":45},{"x":-92,"y":43},{"x":-66,"y":42},{"x":-58,"y":42},{"x":-44,"y":44},{"x":-30,"y":44},{"x":-18,"y":46},{"x":-10,"y":47},{"x":-3,"y":45},{"x":8,"y":53},{"x":13,"y":51},{"x":-25,"y":40},{"x":-48,"y":35},{"x":-39,"y":38},{"x":-35,"y":36},{"x":-60,"y":32},{"x":-82,"y":29},{"x":-77,"y":28},{"x":-100,"y":39},{"x":-93,"y":36},{"x":-41,"y":22},{"x":-53,"y":24},{"x":-67,"y":27},{"x":-77,"y":20},{"x":-56,"y":18},{"x":-48,"y":11},{"x":-58,"y":12},{"x":-64,"y":10},{"x":-77,"y":11},{"x":-36,"y":13},{"x":-32,"y":9},{"x":-30,"y":3},{"x":-20,"y":6},{"x":-14,"y":7},{"x":1,"y":16},{"x":1,"y":19},{"x":18,"y":6},{"x":18,"y":27},{"x":-7,"y":28},{"x":0,"y":31},{"x":22,"y":37},{"x":-67,"y":-9},{"x":-89,"y":-13},{"x":-95,"y":-12},{"x":-106,"y":-11},{"x":-64,"y":-14},{"x":-37,"y":-12},{"x":-68,"y":-30},{"x":-88,"y":-30},{"x":-95,"y":-25},{"x":-122,"y":-26},{"x":-27,"y":-33},{"x":-61,"y":-35},{"x":-90,"y":-45},{"x":-58,"y":-49},{"x":-69,"y":-53},{"x":-110,"y":-55},{"x":-186,"y":28},{"x":-179,"y":24},{"x":-180,"y":21},{"x":-158,"y":24},{"x":-168,"y":22},{"x":-154,"y":18},{"x":-171,"y":16},{"x":-161,"y":15},{"x":-179,"y":12},{"x":-182,"y":8},{"x":-158,"y":10},{"x":-147,"y":11},{"x":-154,"y":7},{"x":-146,"y":6},{"x":-160,"y":2},{"x":-135,"y":-2},{"x":-122,"y":-4},{"x":-129,"y":-8},{"x":-144,"y":-11},{"x":-138,"y":-22},{"x":-145,"y":-22},{"x":-192,"y":51},{"x":-186,"y":56},{"x":-180,"y":50},{"x":-171,"y":44},{"x":-186,"y":59},{"x":-185,"y":63},{"x":-181,"y":68},{"x":-165,"y":68},{"x":-160,"y":74},{"x":-155,"y":65},{"x":-150,"y":62},{"x":-160,"y":60},{"x":-164,"y":57},{"x":-153,"y":56},{"x":-142,"y":54},{"x":-125,"y":56},{"x":-135,"y":73},{"x":-120,"y":76},{"x":-114,"y":63},{"x":-113,"y":68},{"x":-132,"y":67},{"x":-124,"y":67},{"x":-118,"y":55},{"x":-157,"y":50},{"x":-165,"y":49},{"x":-161,"y":44},{"x":-136,"y":38},{"x":-140,"y":35},{"x":-147,"y":27},{"x":-150,"y":31},{"x":-136,"y":47},{"x":-111,"y":47},{"x":-104,"y":52},{"x":-100,"y":43},{"x":-111,"y":27},{"x":-97,"y":32},{"x":-117,"y":29},{"x":-163,"y":28},{"x":60,"y":73},{"x":32,"y":64},{"x":68,"y":38},{"x":45,"y":30},{"x":48,"y":27},{"x":58,"y":27},{"x":48,"y":21},{"x":50,"y":19},{"x":19,"y":14},{"x":17,"y":6},{"x":59,"y":13},{"x":37,"y":-13},{"x":28,"y":32},{"x":4,"y":35},{"x":-1,"y":27},{"x":25,"y":43},{"x":16,"y":39},{"x":20,"y":38},{"x":7,"y":45},{"x":-2,"y":41},{"x":93,"y":105},{"x":85,"y":108},{"x":33,"y":104},{"x":-7,"y":144},{"x":59,"y":137},{"x":9,"y":119},{"x":-82,"y":104},{"x":-55,"y":159},{"x":-130,"y":60},{"x":-128,"y":58},{"x":-138,"y":60},{"x":-144,"y":64},{"x":-126,"y":72},{"x":-128,"y":68},{"x":-120,"y":66},{"x":-134,"y":62},{"x":-127,"y":48},{"x":-122,"y":50},{"x":-137,"y":50},{"x":-140,"y":45},{"x":-130,"y":42},{"x":-115,"y":42},{"x":-108,"y":38},{"x":-120,"y":30},{"x":-112,"y":34},{"x":-103,"y":34},{"x":-156,"y":58},{"x":-152,"y":44},{"x":-170,"y":30},{"x":-176,"y":33},{"x":-156,"y":36},{"x":-172,"y":62},{"x":-178,"y":58},{"x":-197,"y":55},{"x":-201,"y":60},{"x":-195,"y":75},{"x":-188,"y":72},{"x":-205,"y":68},{"x":-210,"y":73},{"x":-145,"y":78},{"x":-150,"y":84},{"x":-90,"y":9},{"x":-82,"y":-2},{"x":-100,"y":-3},{"x":-74,"y":2},{"x":-85,"y":22},{"x":-92,"y":27},{"x":-72,"y":34},{"x":-62,"y":20},{"x":-40,"y":10},{"x":-10,"y":20},{"x":-6,"y":15},{"x":6,"y":20},{"x":-24,"y":28},{"x":-14,"y":26},{"x":-8,"y":34},{"x":-126,"y":61},{"x":-123,"y":64},{"x":-135,"y":58},{"x":-142,"y":60},{"x":-148,"y":55},{"x":-144,"y":50},{"x":-158,"y":46},{"x":-152,"y":39},{"x":-143,"y":38},{"x":-133,"y":29},{"x":-125,"y":38},{"x":-116,"y":48},{"x":-106,"y":44},{"x":-176,"y":62},{"x":-168,"y":47},{"x":-175,"y":41},{"x":-84,"y":-6},{"x":-78,"y":6},{"x":-96,"y":-19},{"x":-70,"y":-20}]
},"layer":[{"data":{"values":[{"p":"a","x":-252,"y":74},{"p":"a","x":-250,"y":90},{"p":"a","x":-240,"y":97},{"p":"a","x":-219,"y":103},{"p":"a","x":-184,"y":108},{"p":"a","x":-158.5,"y":108},{"p":"a","x":-132,"y":103},{"p":"a","x":-86,"y":98.5},{"p":"a","x":-51,"y":97},{"p":"a","x":-17,"y":91},{"p":"a","x":5.6,"y":85},{"p":"a","x":27,"y":88},{"p":"a","x":53,"y":94},{"p":"a","x":87,"y":103},{"p":"a","x":122,"y":113.5},{"p":"a","x":178,"y":126},{"p":"a","x":214,"y":134},{"p":"a","x":228,"y":135},{"p":"a","x":241,"y":133},{"p":"a","x":256,"y":127},{"p":"a","x":263,"y":119},{"p":"a","x":264,"y":110},{"p":"a","x":260,"y":97},{"p":"a","x":250,"y":86},{"p":"a","x":228,"y":68},{"p":"a","x":209,"y":50},{"p":"a","x":188,"y":29},{"p":"a","x":178,"y":13},{"p":"a","x":169,"y":-2},{"p":"a","x":158.5,"y":-17},{"p":"a","x":145,"y":-30},{"p":"a","x":135,"y":-45},{"p":"a","x":132,"y":-53},{"p":"a","x":132,"y":-63},{"p":"a","x":133.5,"y":-83},{"p":"a","x":130,"y":-109},{"p":"a","x":125,"y":-130},{"p":"a","x":115,"y":-150},{"p":"a","x":106,"y":-168},{"p":"a","x":100,"y":-189},{"p":"a","x":94,"y":-204},{"p":"a","x":84,"y":-211.5},{"p":"a","x":69,"y":-214.6},{"p":"a","x":55.5,"y":-211.5},{"p":"a","x":42,"y":-204},{"p":"a","x":28,"y":-187.5},{"p":"a","x":12.5,"y":-168.6},{"p":"a","x":-9,"y":-150},{"p":"a","x":-33,"y":-131},{"p":"a","x":-52,"y":-107},{"p":"a","x":-65.5,"y":-97},{"p":"a","x":-88,"y":-88.6},{"p":"a","x":-109,"y":-82},{"p":"a","x":-140,"y":-66},{"p":"a","x":-190,"y":-37},{"p":"a","x":-205,"y":-15},{"p":"a","x":-221,"y":6},{"p":"a","x":-233,"y":28.5},{"p":"a","x":-246.5,"y":57},{"p":"b","x":-214,"y":70},{"p":"b","x":-207,"y":76},{"p":"b","x":-191.6,"y":85},{"p":"b","x":-167,"y":90},{"p":"b","x":-150,"y":91},{"p":"b","x":-123.5,"y":88.6},{"p":"b","x":-86,"y":83.6},{"p":"b","x":-51,"y":77},{"p":"b","x":-17,"y":70},{"p":"b","x":11,"y":67},{"p":"b","x":35.6,"y":71},{"p":"b","x":70,"y":81},{"p":"b","x":105,"y":90},{"p":"b","x":131.7,"y":98},{"p":"b","x":165,"y":107.5},{"p":"b","x":192,"y":111},{"p":"b","x":210,"y":112.5},{"p":"b","x":219,"y":110},{"p":"b","x":226,"y":103.5},{"p":"b","x":225,"y":95},{"p":"b","x":216.5,"y":84.5},{"p":"b","x":204,"y":72},{"p":"b","x":190,"y":58},{"p":"b","x":178,"y":45.6},{"p":"b","x":166.6,"y":31},{"p":"b","x":156.6,"y":9.5},{"p":"b","x":142,"y":-12},{"p":"b","x":132,"y":-22.6},{"p":"b","x":115.4,"y":-35},{"p":"b","x":107,"y":-43},{"p":"b","x":105,"y":-53},{"p":"b","x":107,"y":-63},{"p":"b","x":112,"y":-76},{"p":"b","x":113.6,"y":-89.5},{"p":"b","x":112,"y":-109},{"p":"b","x":99,"y":-132},{"p":"b","x":84,"y":-155},{"p":"b","x":75,"y":-179},{"p":"b","x":55.5,"y":-176},{"p":"b","x":33,"y":-158.6},{"p":"b","x":15.6,"y":-145},{"p":"b","x":-5,"y":-130},{"p":"b","x":-20.6,"y":-115},{"p":"b","x":-29,"y":-100},{"p":"b","x":-45,"y":-86},{"p":"b","x":-62.4,"y":-79.5},{"p":"b","x":-88,"y":-74.6},{"p":"b","x":-105.5,"y":-68},{"p":"b","x":-123,"y":-58},{"p":"b","x":-140,"y":-50},{"p":"b","x":-151.6,"y":-40},{"p":"b","x":-174,"y":-19},{"p":"b","x":-193,"y":1},{"p":"b","x":-207,"y":28.5},{"p":"b","x":-215,"y":49},{"p":"c","x":-196.6,"y":52.4},{"p":"c","x":-191.6,"y":66},{"p":"c","x":-177,"y":75},{"p":"c","x":-161.6,"y":78.6},{"p":"c","x":-141,"y":80},{"p":"c","x":-115,"y":76},{"p":"c","x":-86,"y":70},{"p":"c","x":-51,"y":63},{"p":"c","x":-17,"y":57},{"p":"c","x":-4.4,"y":55},{"p":"c","x":13.7,"y":54},{"p":"c","x":32,"y":57},{"p":"c","x":50,"y":63},{"p":"c","x":92,"y":72},{"p":"c","x":117,"y":76},{"p":"c","x":141,"y":83},{"p":"c","x":165,"y":89.5},{"p":"c","x":180,"y":88},{"p":"c","x":182,"y":81},{"p":"c","x":178,"y":74},{"p":"c","x":170,"y":59},{"p":"c","x":163,"y":47},{"p":"c","x":155,"y":32},{"p":"c","x":151,"y":19},{"p":"c","x":138.5,"y":4.5},{"p":"c","x":130,"y":-11},{"p":"c","x":113.6,"y":-19},{"p":"c","x":100,"y":-28},{"p":"c","x":79,"y":-36.6},{"p":"c","x":70.5,"y":-40},{"p":"c","x":69,"y":-46},{"p":"c","x":69,"y":-50},{"p":"c","x":74,"y":-56},{"p":"c","x":86,"y":-66},{"p":"c","x":93.6,"y":-76},{"p":"c","x":98.6,"y":-89.5},{"p":"c","x":99,"y":-101},{"p":"c","x":93.6,"y":-121},{"p":"c","x":82,"y":-137},{"p":"c","x":68,"y":-147},{"p":"c","x":53.7,"y":-151},{"p":"c","x":40,"y":-147},{"p":"c","x":24,"y":-137},{"p":"c","x":7,"y":-125},{"p":"c","x":-5,"y":-108.5},{"p":"c","x":-8.7,"y":-91},{"p":"c","x":-12,"y":-79.5},{"p":"c","x":-19,"y":-72},{"p":"c","x":-36,"y":-68},{"p":"c","x":-57,"y":-66},{"p":"c","x":-80,"y":-60},{"p":"c","x":-105.5,"y":-50.6},{"p":"c","x":-123,"y":-42},{"p":"c","x":-140,"y":-34},{"p":"c","x":-167,"y":-5},{"p":"c","x":-184,"y":18.5},{"p":"c","x":-195,"y":37.5},{"p":"d","x":-178,"y":47.5},{"p":"d","x":-176.6,"y":55},{"p":"d","x":-167,"y":64},{"p":"d","x":-153,"y":68.7},{"p":"d","x":-139,"y":70.5},{"p":"d","x":-117,"y":66},{"p":"d","x":-97,"y":62},{"p":"d","x":-77,"y":54},{"p":"d","x":-56,"y":47.5},{"p":"d","x":-28,"y":44},{"p":"d","x":-4.4,"y":43},{"p":"d","x":20,"y":44},{"p":"d","x":44,"y":52},{"p":"d","x":68.6,"y":60},{"p":"d","x":92,"y":66},{"p":"d","x":111,"y":68.7},{"p":"d","x":129,"y":68.7},{"p":"d","x":140,"y":65.5},{"p":"d","x":146.6,"y":59.6},{"p":"d","x":147,"y":52},{"p":"d","x":143.5,"y":36},{"p":"d","x":140,"y":22.6},{"p":"d","x":129,"y":1},{"p":"d","x":117,"y":-7},{"p":"d","x":105,"y":-14},{"p":"d","x":87,"y":-18.5},{"p":"d","x":63.6,"y":-22},{"p":"d","x":48,"y":-24.4},{"p":"d","x":22.5,"y":-30},{"p":"d","x":-7.5,"y":-41},{"p":"d","x":-35,"y":-48},{"p":"d","x":-63,"y":-52},{"p":"d","x":-90.5,"y":-47},{"p":"d","x":-118.6,"y":-33},{"p":"d","x":-139,"y":-18},{"p":"d","x":-156,"y":2},{"p":"d","x":-174,"y":32},{"p":"d2","x":13,"y":-96},{"p":"d2","x":15.6,"y":-111},{"p":"d2","x":29,"y":-125},{"p":"d2","x":50.5,"y":-132},{"p":"d2","x":68,"y":-130},{"p":"d2","x":82,"y":-117},{"p":"d2","x":85.5,"y":-96},{"p":"d2","x":80.5,"y":-83},{"p":"d2","x":72.4,"y":-76},{"p":"d2","x":59,"y":-70.5},{"p":"d2","x":45.5,"y":-68.7},{"p":"d2","x":32,"y":-71.4},{"p":"d2","x":22.5,"y":-77.3},{"p":"e","x":-160,"y":47.5},{"p":"e","x":-157,"y":54},{"p":"e","x":-147,"y":58},{"p":"e","x":-137,"y":60},{"p":"e","x":-117,"y":56.5},{"p":"e","x":-100.5,"y":48},{"p":"e","x":-83.6,"y":41},{"p":"e","x":-63,"y":32},{"p":"e","x":-42.4,"y":25},{"p":"e","x":-4.4,"y":23.5},{"p":"e","x":7.5,"y":23},{"p":"e","x":20,"y":26},{"p":"e","x":44,"y":38},{"p":"e","x":56,"y":46.5},{"p":"e","x":74,"y":53},{"p":"e","x":98.6,"y":58},{"p":"e","x":117,"y":56},{"p":"e","x":129,"y":47.5},{"p":"e","x":132,"y":36},{"p":"e","x":130,"y":22},{"p":"e","x":123,"y":6},{"p":"e","x":110.4,"y":-3.6},{"p":"e","x":92,"y":-9},{"p":"e","x":74,"y":-9.5},{"p":"e","x":50,"y":-4.5},{"p":"e","x":32,"y":2.7},{"p":"e","x":13.7,"y":10.4},{"p":"e","x":3,"y":12},{"p":"e","x":-7.5,"y":9},{"p":"e","x":-17.5,"y":3},{"p":"e","x":-22.5,"y":-6},{"p":"e","x":-30,"y":-20},{"p":"e","x":-42.4,"y":-31},{"p":"e","x":-63,"y":-38},{"p":"e","x":-83.6,"y":-37},{"p":"e","x":-105,"y":-30},{"p":"e","x":-125.4,"y":-17},{"p":"e","x":-139,"y":-1},{"p":"e","x":-153,"y":25},{"p":"e2","x":33,"y":-98.5},{"p":"e2","x":38,"y":-108.5},{"p":"e2","x":50.5,"y":-115},{"p":"e2","x":64,"y":-110},{"p":"e2","x":68,"y":-97},{"p":"e2","x":62.4,"y":-88.6},{"p":"e2","x":50.5,"y":-86},{"p":"e2","x":36.8,"y":-91},{"p":"f","x":-138,"y":37},{"p":"f","x":-135,"y":43},{"p":"f","x":-122,"y":45},{"p":"f","x":-112,"y":40},{"p":"f","x":-100.5,"y":31},{"p":"f","x":-83.6,"y":18},{"p":"f","x":-63,"y":5},{"p":"f","x":-56,"y":-5},{"p":"f","x":-56,"y":-13},{"p":"f","x":-63,"y":-21},{"p":"f","x":-77,"y":-24},{"p":"f","x":-95,"y":-19},{"p":"f","x":-112,"y":-10},{"p":"f","x":-120,"y":2},{"p":"f","x":-128,"y":19},{"p":"f","x":-135,"y":29},{"p":"f2","x":52.4,"y":20},{"p":"f2","x":56,"y":30},{"p":"f2","x":68.6,"y":41},{"p":"f2","x":87,"y":47},{"p":"f2","x":105,"y":46.5},{"p":"f2","x":117,"y":40},{"p":"f2","x":119,"y":29},{"p":"f2","x":117,"y":14},{"p":"f2","x":105,"y":4.5},{"p":"f2","x":87,"y":0.5},{"p":"f2","x":71,"y":2.7},{"p":"f2","x":56,"y":11},{"p":"g","x":76,"y":22},{"p":"g","x":80.5,"y":30},{"p":"g","x":89,"y":33},{"p":"g","x":100,"y":31},{"p":"g","x":103,"y":24},{"p":"g","x":100,"y":17},{"p":"g","x":90.5,"y":13},{"p":"g","x":79,"y":17}]},"mark":{"type":"line","interpolate":"basis-closed","strokeWidth":0,"clip":true},"encoding":{"order":{"value":null},"fill":{"field":"p","type":"nominal","scale":{"domain":["a","b","c","d","d2","e","e2","f","f2","g"],"range":["#e3e3e3","#cacaca","#a9a9a9","#888888","#888888","#666666","#666666","#3c3c3c","#3c3c3c","#111111"]},"legend":null}}},
{"data":{"name":"red"},"mark":{"type":"point","shape":"M-1,-1L1,1M-1,1L1,-1","filled":false,"opacity":0.5,"strokeWidth":6,"size":760,"color":"#ff0000"}},
{"data":{"name":"green"},"mark":{"type":"point","shape":"M-1,-1L1,1M-1,1L1,-1","filled":false,"opacity":0.5,"strokeWidth":6,"size":760,"color":"#008000"}},
{"data":{"name":"yellow"},"mark":{"type":"point","shape":"M-1,-1L1,1M-1,1L1,-1","filled":false,"opacity":0.5,"strokeWidth":6,"size":760,"color":"#bfbf00"}},
{"data":{"name":"blue"},"mark":{"type":"point","shape":"M-1,-1L1,1M-1,1L1,-1","filled":false,"opacity":0.5,"strokeWidth":6,"size":760,"color":"#0000ff"}}]}
